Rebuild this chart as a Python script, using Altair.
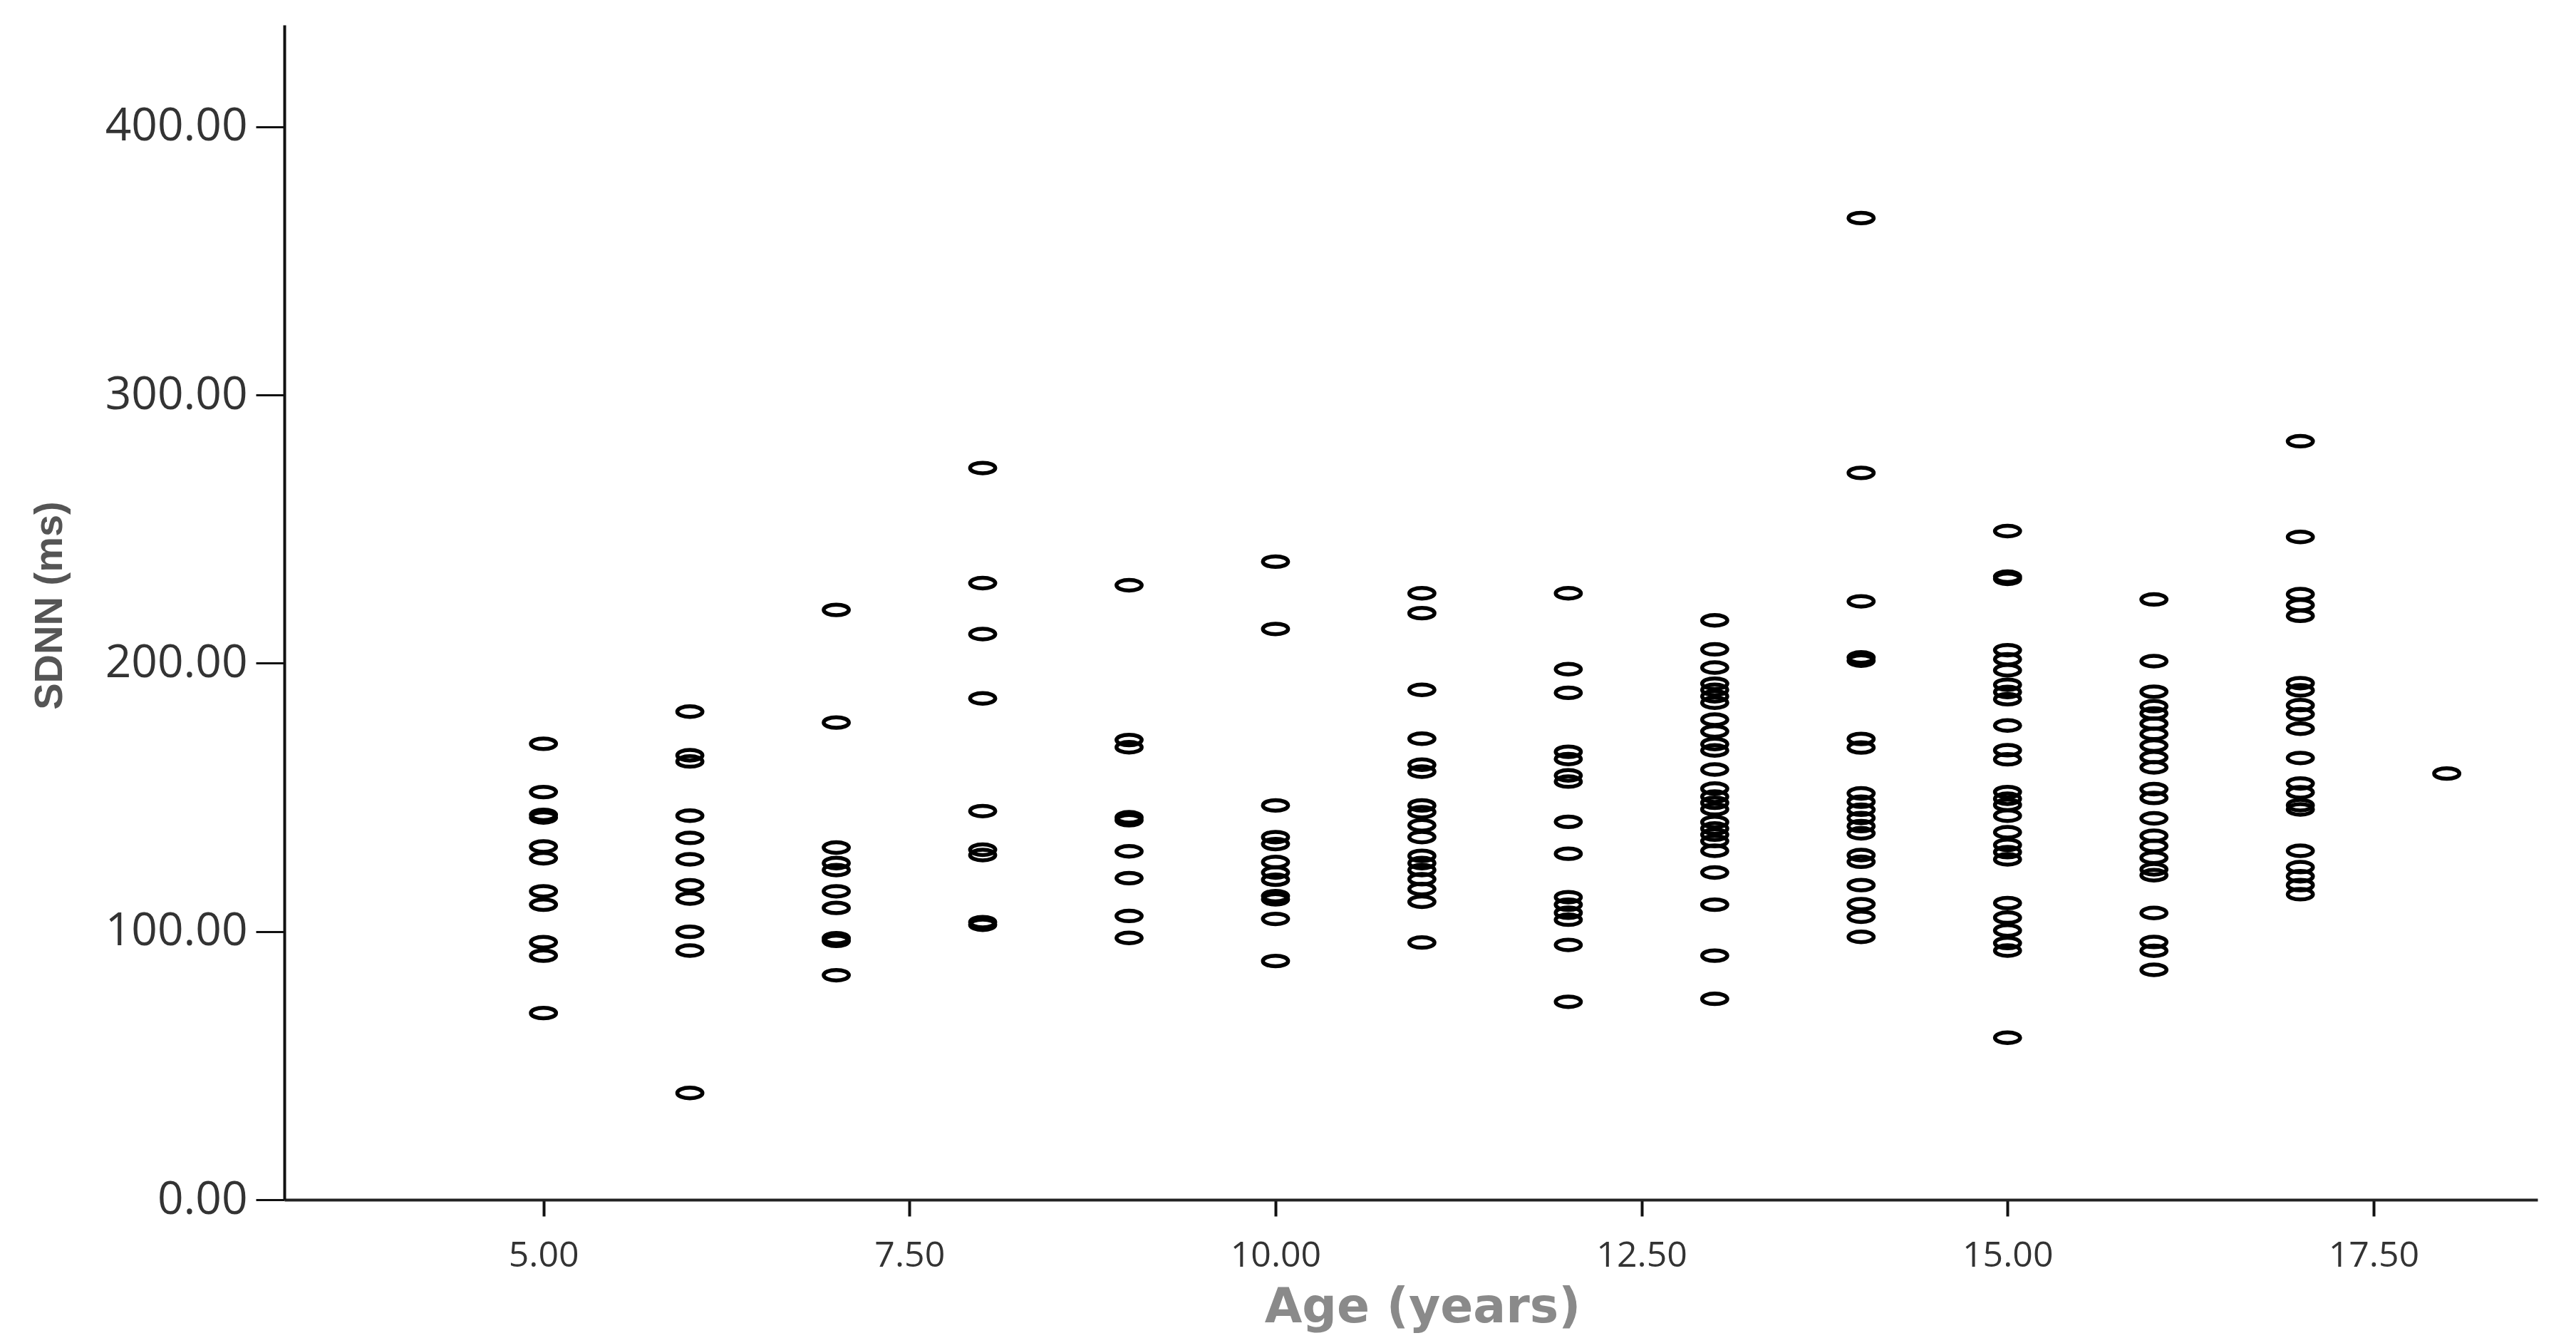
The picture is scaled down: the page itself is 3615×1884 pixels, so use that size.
import altair as alt
import pandas as pd

# SDNN (ms) values read per age group (years)
sdnn_age5 = [170.0, 152.0, 143.5, 142.5, 131.7, 127.3, 115.0, 110.0, 96.0, 91.0, 69.6]
sdnn_age6 = [182.0, 165.7, 163.4, 143.2, 134.9, 126.9, 117.2, 112.3, 99.9, 92.9, 39.8]
sdnn_age7 = [219.9, 177.9, 131.3, 125.5, 122.9, 115.0, 108.8, 97.5, 96.5, 83.7]
sdnn_age8 = [272.8, 229.9, 210.9, 186.9, 144.9, 130.5, 128.5, 103.5, 102.5]
sdnn_age9 = [229.1, 171.4, 168.7, 142.6, 141.5, 129.9, 119.9, 105.8, 97.6]
sdnn_age10 = [237.9, 212.8, 147.0, 135.2, 132.6, 125.9, 122.0, 119.3, 113.2, 112.0, 104.7, 89.0]
sdnn_age11 = [226.1, 218.7, 190.1, 171.9, 162.2, 159.6, 147.0, 144.5, 139.6, 135.2,
              128.2, 125.5, 122.9, 119.5, 115.8, 111.1, 95.9]
sdnn_age12 = [226.1, 197.8, 189.0, 167.0, 164.3, 158.2, 155.9, 140.9, 129.0, 112.8,
              110.0, 107.0, 104.4, 95.0, 73.8]
sdnn_age13 = [216.0, 205.2, 198.4, 192.4, 190.1, 187.7, 185.3, 179.0, 174.6, 169.9,
              167.5, 160.4, 153.3, 150.3, 148.0, 145.6, 140.8, 138.4, 136.1, 133.7,
              130.1, 122.0, 110.0, 91.0, 74.9]
sdnn_age14 = [366.0, 271.0, 223.1, 202.2, 201.0, 171.8, 168.6, 151.5, 148.4, 145.4,
              142.3, 139.3, 136.6, 128.5, 126.0, 117.3, 110.2, 105.5, 98.0]
sdnn_age15 = [249.3, 232.3, 231.5, 204.9, 201.5, 197.4, 192.0, 189.3, 186.6, 176.8,
              167.6, 164.2, 152.0, 149.5, 147.2, 143.2, 137.0, 132.3, 129.6, 126.9,
              110.6, 105.2, 100.4, 95.7, 92.9, 60.4]
sdnn_age16 = [223.8, 200.8, 189.4, 184.0, 181.3, 177.5, 173.7, 169.3, 165.0, 161.2,
              153.1, 149.8, 142.2, 135.7, 131.9, 127.5, 123.2, 121.0, 106.9, 96.1,
              92.8, 85.7]
sdnn_age17 = [282.8, 247.1, 225.8, 221.7, 217.7, 192.6, 189.9, 184.4, 181.0, 175.6,
              164.7, 155.2, 151.9, 147.1, 145.5, 130.1, 124.0, 120.6, 117.3, 113.9]
sdnn_age18 = [158.9]

ages = [5, 6, 7, 8, 9, 10, 11, 12, 13, 14, 15, 16, 17, 18]
groups = [sdnn_age5, sdnn_age6, sdnn_age7, sdnn_age8, sdnn_age9, sdnn_age10,
          sdnn_age11, sdnn_age12, sdnn_age13, sdnn_age14, sdnn_age15, sdnn_age16,
          sdnn_age17, sdnn_age18]

x_ticks = [5.0, 7.5, 10.0, 12.5, 15.0, 17.5]
y_ticks = [0, 100, 200, 300, 400]

rows = []
for a, vals in zip(ages, groups):
    for v in vals:
        rows.append({"age": a, "sdnn": v})
df = pd.DataFrame(rows)

ellipse = "M -1,0 A 1,0.42 0 1,1 1,0 A 1,0.42 0 1,1 -1,0 Z"

chart = alt.Chart(df).mark_point(
    shape=ellipse, filled=False, stroke="black", strokeWidth=5.5, size=1250, opacity=1
).encode(
    x=alt.X("age:Q",
            scale=alt.Scale(domain=[3.23, 18.62], nice=False, zero=False),
            axis=alt.Axis(values=x_ticks, format=".2f", title="Age (years)",
                          grid=False, domainColor="#222222", domainWidth=4,
                          tickColor="#111111", tickWidth=4, tickSize=23,
                          labelFont="Open Sans", labelFontSize=50, labelColor="#333333",
                          labelPadding=30, labelLimit=0,
                          titleFont="DejaVu Sans", titleFontSize=68, titleFontWeight="bold",
                          titleColor="#8a8a8a", titleX=1597, titleY=151,
                          titleBaseline="middle", titleAlign="center")),
    y=alt.Y("sdnn:Q",
            scale=alt.Scale(domain=[0, 438], nice=False),
            axis=alt.Axis(values=y_ticks, format=".2f", title="SDNN (ms)",
                          grid=False, domainColor="#111111", domainWidth=4,
                          tickColor="#111111", tickWidth=3, tickSize=40,
                          labelFont="Open Sans", labelFontSize=64, labelColor="#333333",
                          labelPadding=12, labelBaseline="middle", labelLimit=0,
                          titleFont="Liberation Sans", titleFontSize=56, titleFontWeight="bold",
                          titleColor="#555555", titleX=-330, titleY=814,
                          titleBaseline="middle", titleAlign="center", titleAngle=-90)),
).properties(
    width=3162,
    height=1648,
    autosize=alt.AutoSizeParams(type="none"),
    padding={"left": 391, "top": 27, "right": 46, "bottom": 193},
    background="white",
).configure_view(stroke=None)

chart.save("out.html", embed_options={"renderer": "svg", "actions": False})
